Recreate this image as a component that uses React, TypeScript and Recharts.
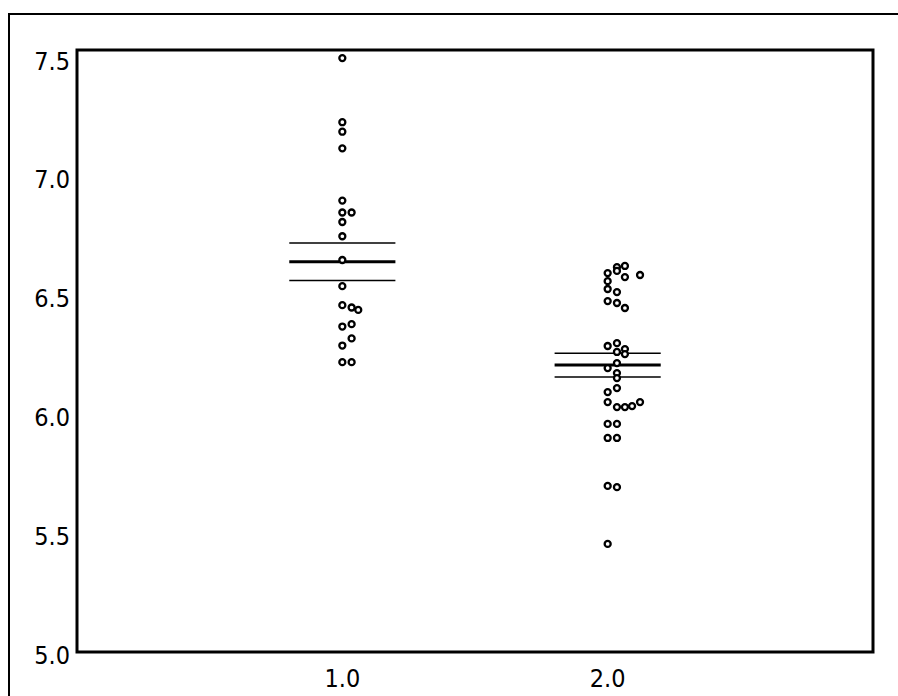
import React from 'react';
import {
  ScatterChart,
  Scatter,
  XAxis,
  YAxis,
  ReferenceLine,
  ReferenceArea
} from 'recharts';

// group 1 (x = 1.0), jittered sideways like a swarm plot
const group1X = [1.0, 1.0, 1.0, 1.0, 1.0, 1.0, 1.035, 1.0, 1.0, 1.0, 1.0, 1.0, 1.035, 1.06, 1.035, 1.0, 1.035, 1.0, 1.0, 1.035];
const group1Y = [7.50, 7.23, 7.19, 7.12, 6.90, 6.85, 6.85, 6.81, 6.75, 6.65, 6.54, 6.46, 6.45, 6.44, 6.38, 6.37, 6.32, 6.29, 6.22, 6.22];

// group 2 (x = 2.0)
const group2X = [
  2.0, 2.035, 2.035, 2.065, 2.065, 2.122, 2.0, 2.0, 2.035, 2.0, 2.035, 2.065,
  2.0, 2.035, 2.035, 2.065, 2.065, 2.035, 2.0, 2.035, 2.035, 2.035, 2.0,
  2.0, 2.035, 2.065, 2.092, 2.122, 2.0, 2.035, 2.0, 2.035, 2.0, 2.035, 2.0
];
const group2Y = [
  6.595, 6.620, 6.604, 6.625, 6.578, 6.587, 6.561, 6.528, 6.515, 6.477, 6.469, 6.448,
  6.288, 6.300, 6.263, 6.275, 6.254, 6.216, 6.195, 6.174, 6.153, 6.111, 6.094,
  6.052, 6.031, 6.031, 6.035, 6.052, 5.960, 5.960, 5.901, 5.901, 5.699, 5.694, 5.455
];

// mean and standard error lines
const groupCenters = [1, 2];
const groupMeans = [6.643, 6.208];
const groupSE = [0.079, 0.050];

const xTicks = [1, 2];
const yTicks = [5.0, 5.5, 6.0, 6.5, 7.0, 7.5];

const data1 = group1X.map((x, i) => ({ x, y: group1Y[i] }));
const data2 = group2X.map((x, i) => ({ x, y: group2Y[i] }));

const FONT = '"DejaVu Sans Condensed", "DejaVu Sans", sans-serif';
const Y_MAX = 7.534;
const HALF = 0.2;

const Dot = (props: any) => (
  <circle cx={props.cx} cy={props.cy} r={3} fill="#fff" stroke="#000" strokeWidth={2.3} />
);

const YTick = ({ x, y, payload }: any) => (
  <text x={x + 1} y={y + 3} textAnchor="end" dominantBaseline="central" fontSize={25} fontFamily={FONT} fill="#000">
    {payload.value.toFixed(1)}
  </text>
);

const XTick = ({ x, y, payload }: any) => (
  <text x={x} y={y + 18} textAnchor="middle" dominantBaseline="central" fontSize={25} fontFamily={FONT} fill="#000">
    {payload.value.toFixed(1)}
  </text>
);

export default function App() {
  return (
    <div
      style={{
        position: 'absolute',
        left: 8,
        top: 13,
        width: 890,
        height: 683,
        boxSizing: 'border-box',
        borderTop: '2px solid #000',
        borderLeft: '2px solid #000',
        background: '#fff'
      }}
    >
      <ScatterChart width={888} height={681} margin={{ top: 35, right: 25, left: 0, bottom: 0 }}>
        <XAxis
          type="number"
          dataKey="x"
          domain={[0, 3]}
          ticks={xTicks}
          axisLine={false}
          tickLine={false}
          tick={<XTick />}
          height={44}
          allowDataOverflow
        />
        <YAxis
          type="number"
          dataKey="y"
          domain={[5, Y_MAX]}
          ticks={yTicks}
          axisLine={false}
          tickLine={false}
          tick={<YTick />}
          width={67}
          allowDataOverflow
        />
        <ReferenceArea x1={0} x2={3} y1={5} y2={Y_MAX} fill="none" stroke="#000" strokeWidth={3} />
        {groupCenters.map((c, i) => (
          <ReferenceLine
            key={'m' + i}
            segment={[{ x: c - HALF, y: groupMeans[i] }, { x: c + HALF, y: groupMeans[i] }]}
            stroke="#000"
            strokeWidth={3}
          />
        ))}
        {groupCenters.map((c, i) => (
          <ReferenceLine
            key={'u' + i}
            segment={[{ x: c - HALF, y: groupMeans[i] + groupSE[i] }, { x: c + HALF, y: groupMeans[i] + groupSE[i] }]}
            stroke="#000"
            strokeWidth={1.5}
          />
        ))}
        {groupCenters.map((c, i) => (
          <ReferenceLine
            key={'l' + i}
            segment={[{ x: c - HALF, y: groupMeans[i] - groupSE[i] }, { x: c + HALF, y: groupMeans[i] - groupSE[i] }]}
            stroke="#000"
            strokeWidth={1.5}
          />
        ))}
        <Scatter data={data1} shape={<Dot />} isAnimationActive={false} />
        <Scatter data={data2} shape={<Dot />} isAnimationActive={false} />
      </ScatterChart>
    </div>
  );
}
